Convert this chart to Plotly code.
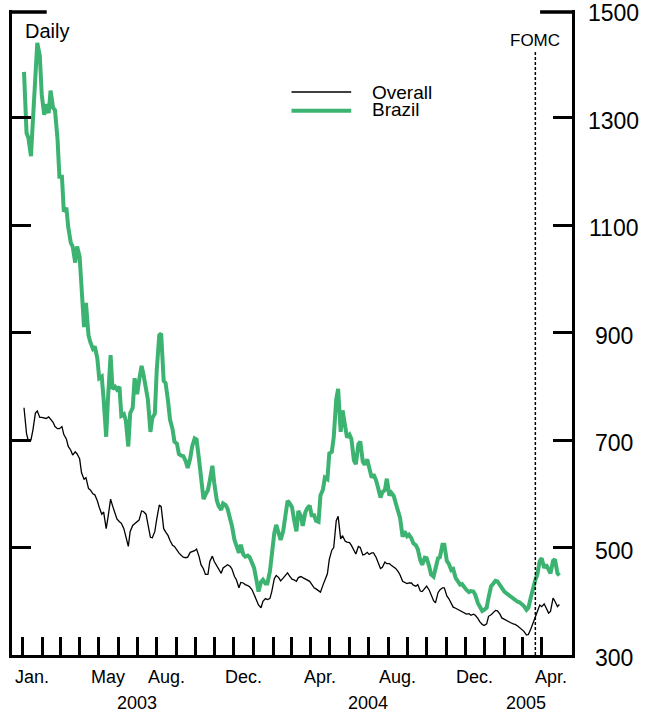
import pandas as pd
import plotly.graph_objects as go

# readings taken twice a week (Tuesdays and Fridays), Jan 2003 - Apr 2005
fridays = pd.date_range("2003-01-03", "2005-04-29", freq="W-FRI")
tuesdays = pd.date_range("2003-01-07", "2005-04-26", freq="W-TUE")

brazil_fri = [1385, 1262, 1293, 1439, 1343, 1325, 1350, 1314, 1190, 1125,
              1096, 1060, 1060, 988, 955, 882, 874, 815, 775, 780,
              795, 794, 745, 737, 750, 815, 810, 822, 775, 741,
              830, 898, 806, 738, 697, 674, 670, 648, 688, 701,
              630, 598, 625, 620, 577, 582, 572, 540, 505, 505,
              483, 482, 462, 418, 440, 433, 488, 542, 514, 560,
              583, 553, 568, 540, 573, 560, 550, 597, 630, 675,
              705, 795, 755, 705, 702, 655, 697, 654, 652, 636,
              612, 603, 628, 602, 583, 555, 530, 524, 508, 497,
              468, 480, 450, 458, 482, 505, 470, 460, 438, 432,
              421, 419, 412, 390, 384, 407, 432, 437, 423, 415,
              409, 402, 398, 391, 388, 424, 449, 480, 468, 452,
              478, 448]
brazil_tue = [1271, 1228, 1392, 1415, 1305, 1308, 1318, 1260, 1190, 1132,
              1067, 1030, 1041, 910, 895, 870, 852, 818, 706, 858,
              799, 799, 748, 688, 760, 785, 838, 797, 715, 749,
              895, 810, 771, 720, 693, 671, 660, 666, 703, 663,
              590, 607, 652, 588, 570, 579, 556, 514, 490, 487,
              485, 471, 438, 436, 433, 455, 527, 527, 530, 587,
              575, 530, 559, 565, 578, 560, 548, 608, 627, 678,
              776, 715, 725, 710, 662, 692, 660, 664, 630, 625,
              593, 607, 597, 596, 567, 520, 521, 517, 504, 476,
              481, 465, 446, 480, 505, 475, 458, 443, 431, 425,
              417, 418, 397, 382, 388, 428, 438, 430, 418, 411,
              405, 399, 395, 384, 408, 440, 475, 462, 458, 475,
              452]

overall_fri = [760, 698, 718, 754, 742, 740, 739, 725, 721, 710,
               688, 672, 674, 639, 630, 607, 598, 575, 566, 557,
               578, 553, 545, 518, 530, 544, 551, 567, 540, 518,
               553, 576, 529, 513, 502, 490, 482, 482, 492, 497,
               468, 450, 474, 474, 460, 462, 468, 460, 440, 435,
               431, 427, 413, 393, 400, 403, 418, 448, 438, 448,
               447, 440, 444, 444, 439, 432, 423, 417, 438, 478,
               500, 558, 522, 510, 504, 488, 500, 487, 487, 490,
               473, 463, 470, 467, 461, 449, 435, 434, 430, 431,
               418, 428, 413, 397, 421, 425, 405, 389, 385, 380,
               376, 374, 374, 362, 355, 372, 378, 382, 369, 364,
               360, 357, 351, 344, 338, 358, 378, 390, 388, 381,
               400, 394]
overall_tue = [712, 700, 750, 742, 740, 743, 733, 721, 725, 702,
               681, 678, 665, 627, 610, 600, 587, 562, 535, 590,
               562, 548, 535, 502, 541, 549, 568, 562, 519, 530,
               579, 535, 522, 504, 494, 485, 481, 491, 494, 483,
               460, 450, 484, 465, 452, 466, 465, 446, 425, 434,
               429, 421, 400, 388, 405, 405, 442, 444, 443, 453,
               441, 437, 446, 441, 437, 425, 419, 430, 451, 495,
               550, 516, 512, 509, 493, 502, 486, 491, 490, 482,
               461, 473, 470, 464, 455, 437, 433, 434, 428, 419,
               424, 421, 401, 416, 425, 410, 395, 387, 382, 378,
               377, 376, 368, 357, 358, 375, 383, 376, 366, 362,
               358, 354, 347, 337, 349, 370, 393, 395, 378, 406,
               390]

brazil = pd.concat([pd.Series(brazil_fri, index=fridays),
                    pd.Series(brazil_tue, index=tuesdays)]).sort_index()
overall = pd.concat([pd.Series(overall_fri, index=fridays),
                     pd.Series(overall_tue, index=tuesdays)]).sort_index()

month_ticks = pd.date_range("2003-01-01", "2005-04-01", freq="MS")
month_labels = [("2003-01-16", "Jan."), ("2003-05-16", "May"), ("2003-08-16", "Aug."),
                ("2003-12-16", "Dec."), ("2004-04-16", "Apr."), ("2004-08-16", "Aug."),
                ("2004-12-16", "Dec."), ("2005-04-16", "Apr.")]
year_labels = [("2003-07-01", "2003"), ("2004-07-01", "2004"), ("2005-03-08", "2005")]
y_labels = [300, 500, 700, 900, 1100, 1300, 1500]
fomc_date = "2005-03-22"

FONT = "Liberation Sans, Arial, sans-serif"
GREEN = "#3CB371"

fig = go.Figure()
fig.add_trace(go.Scatter(x=overall.index, y=overall.values, mode="lines", name="Overall",
                         line=dict(color="black", width=1.3), showlegend=False))
fig.add_trace(go.Scatter(x=brazil.index, y=brazil.values, mode="lines", name="Brazil",
                         line=dict(color=GREEN, width=4), showlegend=False))

fig.update_xaxes(type="date", range=["2002-12-15", "2005-05-19"],
                 showline=True, linewidth=3, linecolor="black",
                 ticks="inside", ticklen=18, tickwidth=3, tickcolor="black",
                 tickvals=month_ticks, showticklabels=False,
                 showgrid=False, zeroline=False)
fig.update_yaxes(range=[300, 1500], side="right",
                 showline=True, linewidth=3, linecolor="black", mirror="ticks",
                 ticks="inside", ticklen=19, tickwidth=3, tickcolor="black",
                 tickvals=[500, 700, 900, 1100, 1300], showticklabels=False,
                 showgrid=False, zeroline=False)

ann = []
for d, t in month_labels:
    ann.append(dict(x=d, y=-0.034, xref="x", yref="paper", text=t, showarrow=False,
                    xanchor="center", yanchor="middle", font=dict(size=18)))
for d, t in year_labels:
    ann.append(dict(x=d, y=-0.074, xref="x", yref="paper", text=t, showarrow=False,
                    xanchor="center", yanchor="middle", font=dict(size=18)))
for v in y_labels:
    ann.append(dict(x=1.0746, y=v, xref="paper", yref="y", text=str(v), showarrow=False,
                    xanchor="center", yanchor="middle", yshift=-3, font=dict(size=23)))
ann.append(dict(x=0.019, y=0.968, xref="paper", yref="paper", text="Daily", showarrow=False,
                xanchor="left", yanchor="middle", font=dict(size=20)))
ann.append(dict(x=fomc_date, y=0.953, xref="x", yref="paper", text="FOMC", showarrow=False,
                xanchor="center", yanchor="middle", font=dict(size=17)))
ann.append(dict(x=0.6394, y=0.8721, xref="paper", yref="paper", text="Overall", showarrow=False,
                xanchor="left", yanchor="middle", font=dict(size=19)))
ann.append(dict(x=0.6394, y=0.845, xref="paper", yref="paper", text="Brazil", showarrow=False,
                xanchor="left", yanchor="middle", font=dict(size=19)))

shapes = [
    # longer ticks at the top (1500) on both sides
    dict(type="line", xref="paper", yref="paper", x0=-0.002, x1=0.062, y0=0.997, y1=0.997,
         line=dict(color="black", width=3.5)),
    dict(type="line", xref="paper", yref="paper", x0=0.943, x1=1.002, y0=0.997, y1=0.997,
         line=dict(color="black", width=3.5)),
    dict(type="line", xref="x", yref="paper", x0=fomc_date, x1=fomc_date, y0=0, y1=0.935,
         line=dict(color="black", width=1.5, dash="3px,2px")),
    dict(type="line", xref="paper", yref="paper", x0=0.4991, x1=0.6057, y0=0.8729, y1=0.8729,
         line=dict(color="black", width=1.3)),
    dict(type="line", xref="paper", yref="paper", x0=0.4991, x1=0.6057, y0=0.8439, y1=0.8439,
         line=dict(color=GREEN, width=4)),
]

fig.update_layout(width=649, height=714, margin=dict(l=9, r=77, t=10, b=59),
                  plot_bgcolor="white", paper_bgcolor="white",
                  font=dict(family=FONT, color="black"),
                  annotations=ann, shapes=shapes)

# drop the page's default body margin so the figure sits at the top-left corner
fig.write_html("out.html", config={"displayModeBar": False},
               post_script="document.body.style.margin='0';document.body.style.overflow='hidden';")
